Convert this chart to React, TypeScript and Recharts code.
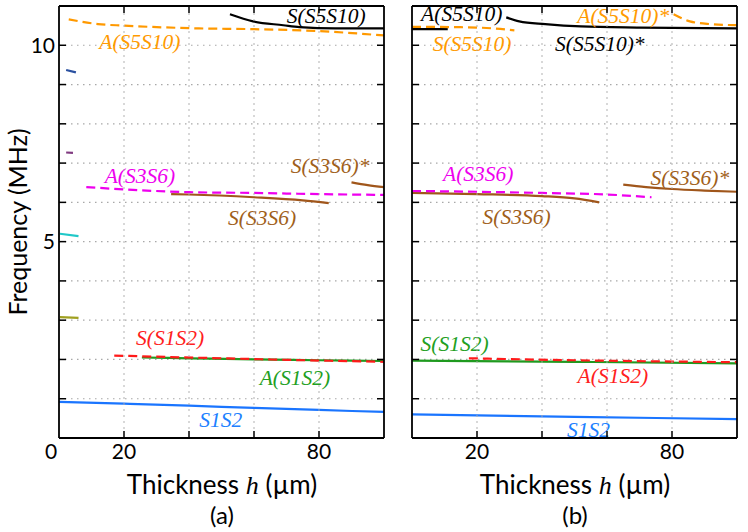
import React from "react";
import { LineChart, Line, XAxis, YAxis, CartesianGrid, ReferenceDot } from "recharts";

const SANS = "Lato, 'Open Sans', sans-serif";
const SERIF = "'Liberation Serif', serif";

// frequency (MHz) vs thickness h (µm)
const yTicks = [0, 1, 2, 3, 4, 5, 6, 7, 8, 9, 10, 11];
const xTicks = [0, 20, 40, 60, 80, 100];

// panel (a)
const aS1S2 = [[0, 0.92], [20, 0.875], [40, 0.824], [60, 0.765], [80, 0.714], [100, 0.663]];
const aAS1S2 = [[25.5, 2.05], [40, 2.03], [60, 2.0], [80, 1.98], [100, 1.96]];
const aSS1S2 = [[17, 2.1], [30, 2.07], [50, 2.03], [70, 1.99], [100, 1.94]];
const aOlive = [[0.3, 3.08], [6, 3.06]];
const aCyan = [[0.3, 5.2], [6, 5.14]];
const aPurple = [[2.2, 7.27], [4.3, 7.26]];
const aNavy = [[2.2, 9.37], [5.2, 9.31]];
const aAS3S6 = [[8.4, 6.39], [20, 6.33], [40, 6.26], [60, 6.24], [80, 6.21], [100, 6.19]];
const aSS3S6 = [[34.5, 6.21], [40, 6.2], [60, 6.13], [75, 6.05], [83, 5.98]];
const aSS3S6s = [[90, 6.51], [95, 6.44], [100, 6.39]];
const aAS5S10 = [[3, 10.66], [12, 10.54], [20, 10.5], [43, 10.43], [60, 10.41], [80, 10.36], [100, 10.25]];
const aSS5S10 = [[52.6, 10.79], [59.7, 10.61], [69, 10.51], [74, 10.46], [85, 10.43], [100, 10.43]];

// panel (b)
const bS1S2 = [[0, 0.6], [50, 0.54], [100, 0.48]];
const bSS1S2 = [[0, 1.97], [50, 1.94], [100, 1.9]];
const bAS1S2 = [[17.5, 2.03], [50, 1.98], [100, 1.93]];
const bSS3S6 = [[0, 6.24], [20, 6.21], [40, 6.16], [50, 6.1], [57.6, 6.0]];
const bAS3S6 = [[0, 6.29], [20, 6.27], [40, 6.24], [60, 6.2], [73.7, 6.13]];
const bSS3S6s = [[65, 6.45], [72, 6.39], [80, 6.34], [90, 6.3], [100, 6.27]];
const bAS5S10 = [[0, 10.41], [11, 10.41]];
const bSS5S10 = [[0, 10.47], [15, 10.46], [25, 10.43], [31.5, 10.38]];
const bSS5S10s = [[29, 10.71], [33, 10.61], [41, 10.54], [52, 10.48], [70, 10.45], [100, 10.43]];
const bAS5S10s = [[80.5, 10.79], [85.5, 10.61], [91.7, 10.54], [100, 10.51]];

// label text, h, f
const aLabels: [string, number, number, string][] = [
  ["S(S5S10)", 82.2, 10.74, "#000000"],
  ["A(S5S10)", 24.9, 10.08, "#ff9a00"],
  ["A(S3S6)", 24.9, 6.66, "#ee00ee"],
  ["S(S3S6)*", 83.4, 6.92, "#a0601a"],
  ["S(S3S6)", 62.5, 5.61, "#a0601a"],
  ["S(S1S2)", 34.2, 2.55, "#ff2020"],
  ["A(S1S2)", 72.6, 1.53, "#22a022"],
  ["S1S2", 49.8, 0.46, "#2080ff"],
];
const bLabels: [string, number, number, string][] = [
  ["A(S5S10)", 15.3, 10.79, "#000000"],
  ["S(S5S10)", 18.5, 10.03, "#ff9a00"],
  ["S(S5S10)*", 57.8, 10.03, "#000000"],
  ["A(S5S10)*", 65, 10.74, "#ff9a00"],
  ["A(S3S6)", 20.4, 6.71, "#ee00ee"],
  ["S(S3S6)", 32.2, 5.64, "#a0601a"],
  ["S(S3S6)*", 85.5, 6.63, "#a0601a"],
  ["S(S1S2)", 13.1, 2.4, "#22a022"],
  ["A(S1S2)", 61.8, 1.58, "#ff2020"],
  ["S1S2", 54.3, 0.2, "#2080ff"],
];

const ORANGE = "#ff9900";
const BROWN = "#a0561b";
const dash = "9 5";

const aSeries = [
  { d: aS1S2, c: "#1a75ff" },
  { d: aAS1S2, c: "#1f9a1f" },
  { d: aSS1S2, c: "#ff1a1a", dash },
  { d: aOlive, c: "#a0a020" },
  { d: aCyan, c: "#20c8c8" },
  { d: aPurple, c: "#803a80" },
  { d: aNavy, c: "#2a50a0" },
  { d: aSS3S6, c: BROWN },
  { d: aAS3S6, c: "#ee00ee", dash },
  { d: aSS3S6s, c: BROWN },
  { d: aSS5S10, c: "#000000" },
  { d: aAS5S10, c: ORANGE, dash },
];
const bSeries = [
  { d: bS1S2, c: "#1a75ff" },
  { d: bSS1S2, c: "#1f9a1f" },
  { d: bAS1S2, c: "#ff1a1a", dash },
  { d: bSS3S6, c: BROWN },
  { d: bAS3S6, c: "#ee00ee", dash },
  { d: bSS3S6s, c: BROWN },
  { d: bAS5S10, c: "#000000" },
  { d: bSS5S10s, c: "#000000" },
  { d: bSS5S10, c: ORANGE, dash },
  { d: bAS5S10s, c: ORANGE, dash },
];

const toPts = (arr: number[][]) => arr.map(([h, f]) => ({ h, f }));

// plot box size (px) and inward tick length
const PW = 325;
const PH = 432;
const TL = 7;
const gridStyle = { stroke: "#a8a8a8", strokeWidth: 1.2, strokeDasharray: "1.5 4.5" };

// y tick: label + inward marks on both sides
const YTick = (props: any) => {
  const { x, y, payload, show } = props;
  const v = payload.value;
  const left = x + 4;
  const edge = v === 0 || v === 11;
  return (
    <g>
      {!edge && <line x1={left} x2={left + TL} y1={y} y2={y} stroke="#000" strokeWidth={1.5} />}
      {!edge && <line x1={left + PW - TL} x2={left + PW} y1={y} y2={y} stroke="#000" strokeWidth={1.5} />}
      {show && (v === 5 || v === 10) && (
        <text x={x} y={y} dy={7.5} textAnchor="end" fontSize={21} fontFamily={SANS} fill="#000">
          {v}
        </text>
      )}
    </g>
  );
};

// x tick: label, dotted grid (small rects) and inward marks (rects)
const XTick = (props: any) => {
  const { payload, zero } = props;
  const x = Number(props.x);
  const y = Number(props.y);
  const v = payload.value;
  const inner = v > 0 && v < 100;
  const dots: number[] = [];
  if (inner) for (let yy = y - TL - 3; yy > y - PH + TL; yy -= 6) dots.push(yy);
  return (
    <g>
      {dots.map((yy) => (
        <rect key={yy} x={x - 0.6} y={yy - 0.75} width={1.2} height={1.5} fill="#a8a8a8" />
      ))}
      {inner && <rect x={x - 0.75} y={y - TL} width={1.5} height={TL} fill="#000" />}
      {inner && <rect x={x - 0.75} y={y - PH} width={1.5} height={TL} fill="#000" />}
      {(v === 20 || v === 80 || (zero && v === 0)) && (
        <text x={x} y={y} dx={v === 0 ? -8 : 0} dy={21} textAnchor="middle" fontSize={21} fontFamily={SANS} fill="#000">
          {v}
        </text>
      )}
    </g>
  );
};

const frame = { stroke: "#000", strokeWidth: 1.8 };

const Panel = ({ left, width, yw, ml, mr, series, labels, first }: any) => (
  <div style={{ position: "absolute", left, top: 0 }}>
    <LineChart width={width} height={532} margin={{ top: 6, right: mr, left: ml, bottom: 64 }}>
      <CartesianGrid xAxisId="x" yAxisId="y" vertical={false} {...gridStyle} />
      <XAxis xAxisId="x" dataKey="h" type="number" domain={[0, 100]} ticks={xTicks} interval={0}
        height={30} tickLine={false} tickSize={0} tickMargin={0} axisLine={frame} tick={<XTick zero={first} />} />
      <XAxis xAxisId="xt" orientation="top" mirror type="number" domain={[0, 100]} ticks={xTicks}
        tick={false} tickLine={false} axisLine={frame} />
      <YAxis yAxisId="y" type="number" domain={[0, 11]} ticks={yTicks} interval={0} width={yw}
        tickLine={false} tickSize={0} tickMargin={4} axisLine={frame} tick={<YTick show={first} />} />
      <YAxis yAxisId="yr" orientation="right" mirror type="number" domain={[0, 11]} ticks={yTicks}
        tick={false} tickLine={false} axisLine={frame} />
      {series.map((s: any, i: number) => (
        <Line key={i} xAxisId="x" yAxisId="y" data={toPts(s.d)} dataKey="f" type="monotone"
          stroke={s.c} strokeWidth={2.2} strokeDasharray={s.dash} dot={false} isAnimationActive={false} />
      ))}
      {labels.map(([t, h, f, c]: any, i: number) => (
        <ReferenceDot key={"l" + i} xAxisId="x" yAxisId="y" x={h} y={f} r={0} fill="none" stroke="none"
          label={(p: any) => (
            <text x={p.viewBox.x + p.viewBox.width / 2} y={p.viewBox.y + p.viewBox.height / 2} dy={7}
              textAnchor="middle" fontSize={21.5} fontFamily={SERIF} fontStyle="italic" fill={c}>
              {t}
            </text>
          )} />
      ))}
    </LineChart>
  </div>
);

const xTitle = (cx: number, cap: string) => (
  <>
    <div style={{ position: "absolute", left: cx, top: 485, transform: "translate(-50%,-50%)", whiteSpace: "nowrap",
      fontFamily: SANS, fontSize: 26, lineHeight: 1 }}>
      Thickness <span style={{ fontFamily: SERIF, fontStyle: "italic" }}>h</span> (µm)
    </div>
    <div style={{ position: "absolute", left: cx, top: 515, transform: "translate(-50%,-50%)",
      fontFamily: SANS, fontSize: 24, lineHeight: 1 }}>
      {cap}
    </div>
  </>
);

export default function App() {
  return (
    <div style={{ position: "absolute", left: 0, top: 0, width: 748, height: 532, background: "#fff" }}>
      <Panel left={0} width={390} yw={40} ml={19} mr={6} series={aSeries} labels={aLabels} first />
      <Panel left={390} width={358} yw={22} ml={0} mr={11} series={bSeries} labels={bLabels} first={false} />
      <div style={{ position: "absolute", left: 17, top: 222, transform: "translate(-50%,-50%) rotate(-90deg)",
        whiteSpace: "nowrap", fontFamily: SANS, fontSize: 25, lineHeight: 1 }}>
        Frequency (MHz)
      </div>
      {xTitle(222, "(a)")}
      {xTitle(575, "(b)")}
    </div>
  );
}
